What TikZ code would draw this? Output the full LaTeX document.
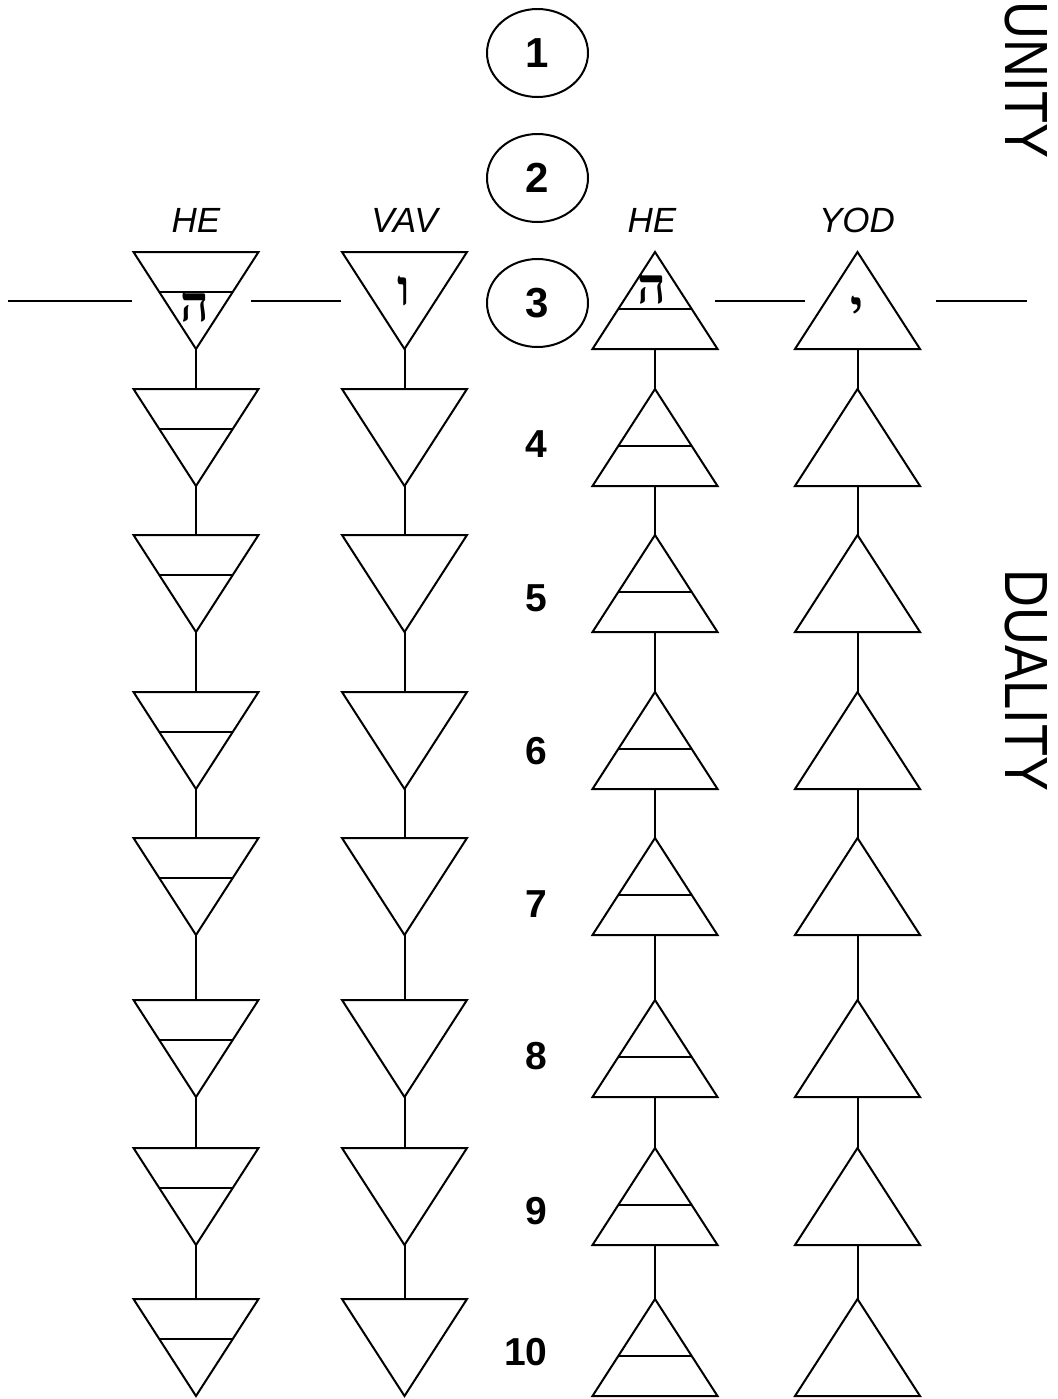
\documentclass[tikz,border=0pt]{standalone}
\usepackage{fontspec}
\usetikzlibrary{shapes.geometric}
\setmainfont{Liberation Sans}
\newfontfamily\hebfont[Script=Hebrew]{Liberation Serif}
\newfontfamily\sidefont[FakeStretch=0.86]{Liberation Sans}
\TeXXeTstate=1

\tikzset{
  numring/.style={ellipse, draw, minimum width=50.5pt, minimum height=44pt, inner sep=0pt,
    font=\fontsize{21}{21}\selectfont\bfseries},
  numlab/.style={anchor=base, font=\fontsize{19.5}{20}\selectfont\bfseries},
  letterlab/.style={anchor=base, font=\fontsize{17.5}{18}\selectfont\itshape},
  hebr/.style={anchor=base, inner sep=0pt, font=\fontsize{25}{25}\hebfont\bfseries},
  sidelab/.style={anchor=base, rotate=-90, inner sep=0pt, font=\fontsize{30.5}{31}\sidefont},
}

\begin{document}
\begin{tikzpicture}[x=0.5pt, y=-0.5pt, line width=1pt]
  \useasboundingbox (0,0) rectangle (1058,1399);

  \node[numring] (one) at (537.5,53) {1};
  \node[numring] (two) at (537.5,178) {2};
  \node[numring] (three) at (537.5,303) {3};

  \foreach \n/\y in {4/457, 5/611, 6/764, 7/917, 8/1069, 9/1224}
    \node[numlab] (n\n) at (536,\y) {\n};
  \node[numlab] (n10) at (526,1365) {10};

  \node[letterlab] (he1) at (196,232) {HE};
  \node[letterlab] (vav) at (404.5,232) {VAV};
  \node[letterlab] (he2) at (652,232) {HE};
  \node[letterlab] (yod) at (857,232) {YOD};

  % downward triangles
  \foreach \y [count=\r] in {252,389,535,692,838,1000,1148,1299} {
    \foreach \c/\x in {dhe/196, dvav/404.5} {
      \coordinate (\c-t\r) at (\x,\y);
      \coordinate (\c-b\r) at (\x,\y+97);
      \draw (\x-62.5,\y) -- (\x+62.5,\y) -- (\c-b\r) -- cycle;
    }
    \draw (196-36.7,\y+40) -- (196+36.7,\y+40);
    % upward triangles
    \foreach \c/\x in {uhe/655, uyod/857.5} {
      \coordinate (\c-t\r) at (\x,\y);
      \coordinate (\c-b\r) at (\x,\y+97);
      \draw (\c-t\r) -- (\x+62.5,\y+97) -- (\x-62.5,\y+97) -- cycle;
    }
    \draw (655-36.7,\y+57) -- (655+36.7,\y+57);
  }

  \foreach \c in {dhe, dvav, uhe, uyod}
    \foreach \r in {1,...,7} {
      \pgfmathtruncatemacro\nxt{\r+1}
      \draw (\c-b\r) -- (\c-t\nxt);
    }

  \foreach \a/\b [count=\i] in {8/132, 251/341, 715/805, 936/1027} {
    \coordinate (bar\i-w) at (\a,301);
    \coordinate (bar\i-e) at (\b,301);
    \draw (bar\i-w) -- (bar\i-e);
  }

  \node[hebr] (heL) at (194.5,321) {\beginR ה\endR};
  \node[hebr] (vavL) at (404,305) {\beginR ו\endR};
  \node[hebr] (heR) at (652,303) {\beginR ה\endR};
  \node[hebr] (yodL) at (857,325) {\beginR י\endR};

  \node[sidelab] (unity) at (1005,80) {UNITY};
  \node[sidelab] (duality) at (1005,680.5) {DUALITY};
\end{tikzpicture}
\end{document}
